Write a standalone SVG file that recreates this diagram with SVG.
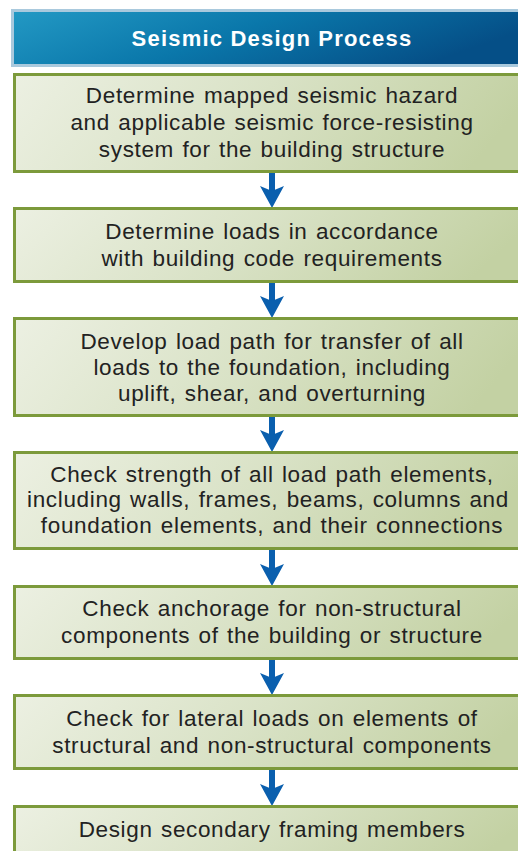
<svg xmlns="http://www.w3.org/2000/svg" width="518" height="851" viewBox="0 0 518 851">
<defs>
<linearGradient id="hdr" x1="0" y1="0" x2="1" y2="0.3">
<stop offset="0" stop-color="#2399c4"/>
<stop offset="0.5" stop-color="#0a77aa"/>
<stop offset="1" stop-color="#054f87"/>
</linearGradient>
<linearGradient id="box" x1="0" y1="0" x2="1" y2="0.15">
<stop offset="0" stop-color="#ecf0e2"/>
<stop offset="0.5" stop-color="#d9e2c6"/>
<stop offset="1" stop-color="#c3d1a3"/>
</linearGradient>
<path id="ah" d="M-12,-22 L0,-17 L12,-22 L0,0 Z" fill="#0a5fae"/>
<style>
.bx{fill:url(#box);stroke:#7c9a3b;stroke-width:3}
.t{font-family:"Liberation Sans",Arial,Helvetica,sans-serif;font-size:22.5px;fill:#222;text-anchor:middle;letter-spacing:0.65px;word-spacing:1.5px}
.h{font-family:"Liberation Sans",Arial,Helvetica,sans-serif;font-size:22px;font-weight:bold;fill:#fff;text-anchor:middle;letter-spacing:1.2px}
.c{stroke:#0a5fae;stroke-width:6;fill:none}
</style>
</defs>
<rect width="518" height="851" fill="#fff"/>
<g id="header">
<rect x="12.5" y="10.5" width="520" height="55" fill="url(#hdr)" stroke="#a9c9dd" stroke-width="3"/>
<text class="h" x="272" y="45.5">Seismic Design Process</text>
</g>
<g id="connectors">
<line class="c" x1="272" y1="172" x2="272" y2="192"/>
<use href="#ah" x="272" y="208"/>
<line class="c" x1="272" y1="282" x2="272" y2="302"/>
<use href="#ah" x="272" y="318"/>
<line class="c" x1="272" y1="416" x2="272" y2="436"/>
<use href="#ah" x="272" y="452"/>
<line class="c" x1="272" y1="549" x2="272" y2="570"/>
<use href="#ah" x="272" y="586"/>
<line class="c" x1="272" y1="659" x2="272" y2="679"/>
<use href="#ah" x="272" y="695"/>
<line class="c" x1="272" y1="769" x2="272" y2="790"/>
<use href="#ah" x="272" y="806"/>
</g>
<g id="n1">
<rect class="bx" x="14.5" y="74.5" width="520" height="97"/>
<text class="t" x="272" y="103">Determine mapped seismic hazard</text>
<text class="t" x="272" y="130">and applicable seismic force-resisting</text>
<text class="t" x="272" y="157">system for the building structure</text>
</g>
<g id="n2">
<rect class="bx" x="14.5" y="208.5" width="520" height="73"/>
<text class="t" x="272" y="239">Determine loads in accordance</text>
<text class="t" x="272" y="266">with building code requirements</text>
</g>
<g id="n3">
<rect class="bx" x="14.5" y="318.5" width="520" height="97"/>
<text class="t" x="272" y="349">Develop load path for transfer of all</text>
<text class="t" x="272" y="375">loads to the foundation, including</text>
<text class="t" x="272" y="401">uplift, shear, and overturning</text>
</g>
<g id="n4">
<rect class="bx" x="14.5" y="452.5" width="520" height="96"/>
<text class="t" x="272" y="482">Check strength of all load path elements,</text>
<text class="t" x="268" y="507">including walls, frames, beams, columns and</text>
<text class="t" x="272" y="533">foundation elements, and their connections</text>
</g>
<g id="n5">
<rect class="bx" x="14.5" y="586.5" width="520" height="72"/>
<text class="t" x="272" y="616">Check anchorage for non-structural</text>
<text class="t" x="272" y="643">components of the building or structure</text>
</g>
<g id="n6">
<rect class="bx" x="14.5" y="695.5" width="520" height="73"/>
<text class="t" x="272" y="726">Check for lateral loads on elements of</text>
<text class="t" x="272" y="753">structural and non-structural components</text>
</g>
<g id="n7">
<rect class="bx" x="14.5" y="806.5" width="520" height="60"/>
<text class="t" x="272" y="837">Design secondary framing members</text>
</g>
</svg>
